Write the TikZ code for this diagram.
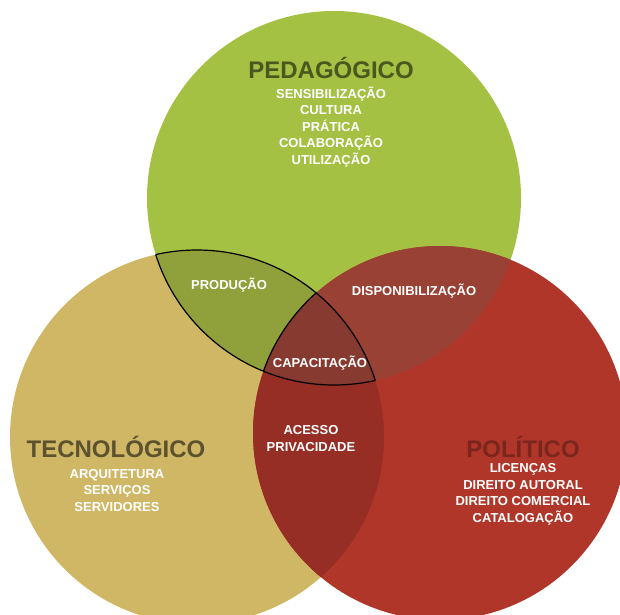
\documentclass[tikz,border=0pt]{standalone}
\usepackage{fontspec}
\setmainfont{Liberation Sans}
\usetikzlibrary{positioning}

\definecolor{pedverde}{HTML}{A4C143}
\definecolor{tecbege}{HTML}{CFB766}
\definecolor{polverm}{HTML}{B0362A}
\definecolor{prodoliva}{HTML}{90A03A}
\definecolor{dispmarrom}{HTML}{9A4136}
\definecolor{acessoverm}{HTML}{962E25}
\definecolor{capacmarrom}{HTML}{873A30}

\tikzset{
  titulo/.style={font=\bfseries\fontsize{24}{28}\selectfont},
  itens/.style={text=white,font=\bfseries\fontsize{13}{16.5}\selectfont,align=center},
}

\begin{document}
\begin{tikzpicture}[x=1pt,y=-1pt]
  \useasboundingbox (0,0) rectangle (620,614);
  \def\raio{187pt}
  \coordinate (ped) at (334,198);
  \coordinate (tec) at (197,437);
  \coordinate (pol) at (440,433);

  % os tres circulos
  \fill[pedverde] (ped) circle[radius=\raio];
  \fill[tecbege] (tec) circle[radius=\raio];
  \fill[polverm] (pol) circle[radius=\raio];

  % interseccoes
  \begin{scope}
    \clip (ped) circle[radius=\raio];
    \fill[prodoliva] (tec) circle[radius=\raio];
    \fill[dispmarrom] (pol) circle[radius=\raio];
  \end{scope}
  \begin{scope}
    \clip (tec) circle[radius=\raio];
    \fill[acessoverm] (pol) circle[radius=\raio];
    \clip (ped) circle[radius=\raio];
    \fill[capacmarrom] (pol) circle[radius=\raio];
  \end{scope}

  % contorno
  \begin{scope}
    \clip (ped) circle[radius=\raio];
    \draw[line width=1.2pt] (tec) circle[radius=\raio];
  \end{scope}
  \begin{scope}
    \clip (tec) circle[radius=\raio];
    \draw[line width=1.2pt] (ped) circle[radius=\raio];
    \clip (ped) circle[radius=\raio];
    \draw[line width=1.2pt] (pol) circle[radius=\raio];
  \end{scope}

  \node[titulo,text=pedverde!45!black] (pedtitulo) at (331,68) {PEDAGÓGICO};
  \node[itens] (peditens) at (331,127) {SENSIBILIZAÇÃO\\CULTURA\\PRÁTICA\\COLABORAÇÃO\\UTILIZAÇÃO};
  \node[titulo,text=tecbege!45!black] (tectitulo) at (116,447) {TECNOLÓGICO};
  \node[itens] (tecitens) at (117,490.5) {ARQUITETURA\\SERVIÇOS\\SERVIDORES};
  \node[titulo,text=polverm!70!black] (poltitulo) at (523,447) {POLÍTICO};
  \node[itens] (politens) at (523,494.5) {LICENÇAS\\DIREITO AUTORAL\\DIREITO COMERCIAL\\CATALOGAÇÃO};

  \node[itens] (producao) at (229,285) {PRODUÇÃO};
  \node[itens] (disponib) at (414,291) {DISPONIBILIZAÇÃO};
  \node[itens] (capacit) at (320,363) {CAPACITAÇÃO};
  \node[itens] (acesso) at (311,438.5) {ACESSO\\PRIVACIDADE};
\end{tikzpicture}
\end{document}
